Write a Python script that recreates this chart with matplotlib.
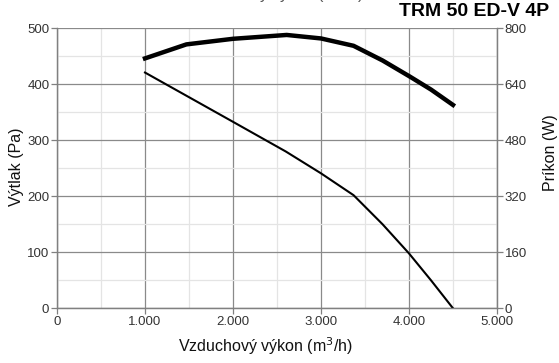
import matplotlib.pyplot as plt
from matplotlib.ticker import MultipleLocator

plt.rcParams["font.family"] = ["Liberation Sans", "DejaVu Sans"]

# pressure curve (Pa)
flow_p = [1000, 2000, 2600, 3000, 3370, 3700, 4000, 4250, 4500]
pressure = [421, 333, 280, 241, 202, 150, 98, 50, 0]

# power curve (W)
flow_w = [1000, 1470, 2000, 2610, 3000, 3370, 3700, 4010, 4250, 4500]
power = [714, 754, 770, 781, 771, 750, 708, 662, 625, 581]

x_ticks = [0, 1000, 2000, 3000, 4000, 5000]
x_labels = ["0", "1.000", "2.000", "3.000", "4.000", "5.000"]

fig = plt.figure(figsize=(5.59, 3.63), dpi=100)
ax = fig.add_axes([57 / 559, 1 - 308.3 / 363, 440 / 559, 280 / 363])
ax2 = ax.twinx()

ax.plot(flow_p, pressure, color="black", lw=1.5, solid_joinstyle="round", zorder=3)
ax2.plot(flow_w, power, color="black", lw=3.2, solid_joinstyle="round", zorder=3)

ax.set_xlim(0, 5000)
ax.set_ylim(0, 500)
ax2.set_ylim(0, 800)

ax.set_xticks(x_ticks)
ax.set_xticklabels(x_labels)
ax.xaxis.set_minor_locator(MultipleLocator(500))
ax.yaxis.set_major_locator(MultipleLocator(100))
ax.yaxis.set_minor_locator(MultipleLocator(50))
ax2.yaxis.set_major_locator(MultipleLocator(160))

ax.grid(which="major", color="#8a8a8a", lw=0.9)
ax.grid(which="minor", color="#e4e4e4", lw=0.9)
ax.set_axisbelow(True)

for a in (ax, ax2):
    for side, sp in a.spines.items():
        sp.set_color("#808080")
        sp.set_linewidth(0.9)
    a.spines["top"].set_visible(False)
    a.tick_params(which="major", length=4, width=0.9, color="#808080",
                  labelsize=9.5, labelcolor="#333333", pad=1.5)
    a.tick_params(which="minor", length=0)

ax.set_xlabel("Vzduchový výkon (m$^3$/h)", fontsize=11.5, color="#111111")
ax.xaxis.set_label_coords((266 - 57) / 440, -(346 - 308.3) / 280)
ax.xaxis.label.set_va("center")
ax.set_ylabel("Výtlak (Pa)", fontsize=11.5, color="#111111")
ax.yaxis.set_label_coords(-(57 - 17) / 440, (308.3 - 167) / 280)
ax.yaxis.label.set_va("center")
ax2.set_ylabel("Príkon (W)", fontsize=11.5, color="#111111")
ax2.yaxis.set_label_coords((551 - 57) / 440, (308.3 - 153) / 280)
ax2.yaxis.label.set_va("center")

fig.text(549 / 559, 1 - 12 / 363, "TRM 50 ED-V 4P", ha="right", va="center",
         fontsize=14, fontweight="bold", color="black")
fig.text(277 / 559, 1 + 6 / 363, "Vzduchový výkon (m$^3$/h)", ha="center", va="center",
         fontsize=11.5, color="#555555")

fig.savefig("out.png", dpi=100)
